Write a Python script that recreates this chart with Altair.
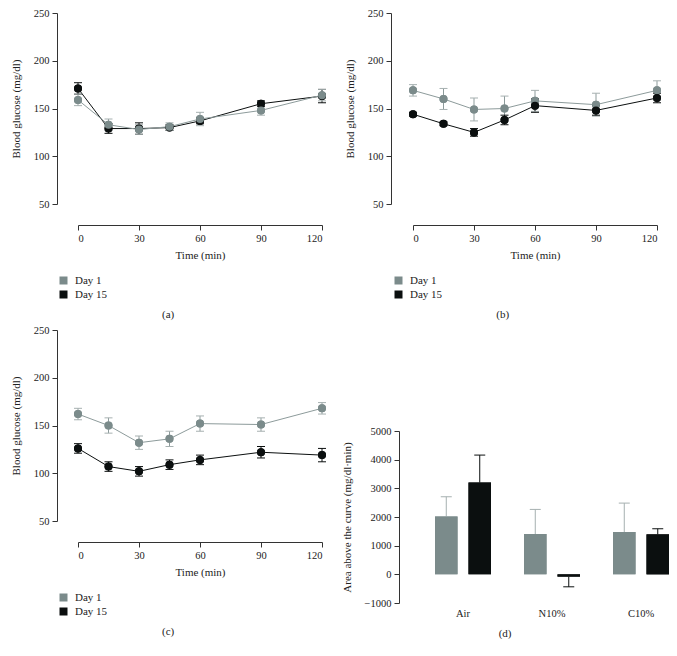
import altair as alt
import pandas as pd

# ---------------- data ----------------
time_min = [0, 15, 30, 45, 60, 90, 120]
series_names = ["Day 1", "Day 15"]

a_day1 = [159, 133, 128, 131, 139, 148, 164]
a_day1_err = [6, 6, 5, 4, 7, 5, 6]
a_day15 = [171, 129, 129, 130, 137, 155, 163]
a_day15_err = [6, 5, 6, 3, 3, 3, 7]

b_day1 = [169, 160, 149, 150, 158, 154, 169]
b_day1_err = [6, 11, 12, 13, 11, 12, 10]
b_day15 = [144, 134, 125, 138, 153, 148, 161]
b_day15_err = [2, 2, 4, 5, 7, 5, 5]

c_day1 = [162, 150, 132, 136, 152, 151, 168]
c_day1_err = [6, 8, 7, 8, 8, 7, 6]
c_day15 = [126, 107, 102, 109, 114, 122, 119]
c_day15_err = [5, 5, 5, 5, 5, 6, 7]

groups = ["Air", "N10%", "C10%"]
auc_day1 = [2020, 1405, 1475]
auc_day1_err = [690, 860, 1010]
auc_day15 = [3200, -80, 1395]
auc_day15_err = [960, 355, 195]

# ---------------- style ----------------
GRAY = "#7b8b8b"
BLACK = "#0b0f0f"
GRAY_ERR = "#a6b0b0"
GRAY_LINE = "#8d9b9b"
FONT = "Liberation Serif"
TXT = "#222222"
AX = "#333333"


def line_df(d1, e1, d15, e15, gray_on_top):
    r1 = [dict(t=t, v=v, lo=v - e, hi=v + e, s="Day 1") for t, v, e in zip(time_min, d1, e1)]
    r15 = [dict(t=t, v=v, lo=v - e, hi=v + e, s="Day 15") for t, v, e in zip(time_min, d15, e15)]
    df = pd.DataFrame(r15 + r1 if gray_on_top else r1 + r15)
    df["sl"] = df["s"]
    df["se"] = df["s"]
    return df


def axis_common(**kw):
    return alt.Axis(
        labelFont=FONT, labelFontSize=10.5, labelColor=TXT,
        titleFont=FONT, titleFontSize=11, titleFontWeight="normal", titleColor=TXT,
        domainColor=AX, tickColor=AX, tickSize=5, labelPadding=3, grid=False, format="d", **kw)


def line_panel(df, caption, yoffset):
    xs = alt.Scale(domain=[0, 120], nice=False, zero=False)
    ys = alt.Scale(domain=[50, 250], nice=False, zero=False)
    xax = axis_common(values=[0, 30, 60, 90, 120], title="Time (min)", offset=21, titlePadding=6)
    yax = axis_common(values=[50, 100, 150, 200, 250], title="Blood glucose (mg/dl)",
                      offset=yoffset, titlePadding=12)
    cs = alt.Scale(domain=series_names, range=[GRAY, BLACK])
    ls = alt.Scale(domain=series_names, range=[GRAY_LINE, BLACK])
    es = alt.Scale(domain=series_names, range=[GRAY_ERR, BLACK])
    base = alt.Chart(df)
    x = alt.X("t:Q", scale=xs, axis=xax)

    lines = base.mark_line(strokeWidth=1).encode(
        x=x, y=alt.Y("v:Q", scale=ys, axis=yax),
        stroke=alt.Stroke("sl:N", scale=ls, legend=None))
    rules = base.mark_rule(strokeWidth=1).encode(
        x=x, y=alt.Y("lo:Q", scale=ys, axis=yax), y2="hi:Q",
        stroke=alt.Stroke("se:N", scale=es, legend=None))
    cap_lo = base.mark_tick(orient="horizontal", size=8, thickness=1, opacity=1).encode(
        x=x, y=alt.Y("lo:Q", scale=ys, axis=yax),
        fill=alt.Fill("se:N", scale=es, legend=None))
    cap_hi = base.mark_tick(orient="horizontal", size=8, thickness=1, opacity=1).encode(
        x=x, y=alt.Y("hi:Q", scale=ys, axis=yax),
        fill=alt.Fill("se:N", scale=es, legend=None))
    pts = base.mark_point(filled=True, size=64, opacity=1, shape="circle", strokeWidth=0).encode(
        x=x, y=alt.Y("v:Q", scale=ys, axis=yax),
        color=alt.Color("s:N", scale=cs, legend=alt.Legend(
            title=None, orient="none", legendX=-20, legendY=262, direction="vertical",
            symbolType="square", symbolSize=64, symbolStrokeWidth=0, symbolOpacity=1,
            labelFont=FONT, labelFontSize=11, labelColor=TXT, labelOffset=6,
            rowPadding=2, padding=0)))
    return alt.layer(pts, lines, rules, cap_lo, cap_hi, pts).properties(
        width=244, height=191,
        title=alt.TitleParams(caption, orient="bottom", anchor="middle", frame="bounds",
                              font=FONT, fontSize=11, fontWeight="normal", color=TXT, offset=9))


def bar_panel():
    rows = []
    for g, v1, e1, v15, e15 in zip(groups, auc_day1, auc_day1_err, auc_day15, auc_day15_err):
        for s, v, e in (("Day 1", v1, e1), ("Day 15", v15, e15)):
            rows.append(dict(g=g, s=s, se=s, v=v, end=v + e if v >= 0 else v - e))
    df = pd.DataFrame(rows)
    base = alt.Chart(df)
    xs = alt.Scale(paddingInner=0.371, paddingOuter=0.1237, align=1)
    xax = alt.Axis(title=None, domain=False, ticks=False, labelAngle=0, labelPadding=5,
                   labelFont=FONT, labelFontSize=10.5, labelColor=TXT)
    x = alt.X("g:N", sort=groups, scale=xs, axis=xax)
    xo = alt.XOffset("s:N", sort=series_names,
                     scale=alt.Scale(domain=series_names, paddingInner=0.328, paddingOuter=0))
    ys = alt.Scale(domain=[-1000, 5000], nice=False, zero=False)
    yax = axis_common(values=[-1000, 0, 1000, 2000, 3000, 4000, 5000],
                      title="Area above the curve (mg/dl\u00b7min)", offset=14, titlePadding=12)
    bars = base.mark_bar().encode(
        x=x, xOffset=xo, y=alt.Y("v:Q", scale=ys, axis=yax),
        color=alt.Color("s:N", scale=alt.Scale(domain=series_names, range=[GRAY, BLACK]), legend=None))
    es = alt.Scale(domain=series_names, range=[GRAY_ERR, BLACK])
    rules = base.mark_rule(strokeWidth=1).encode(
        x=x, xOffset=xo, y=alt.Y("v:Q", scale=ys, axis=yax), y2="end:Q",
        stroke=alt.Stroke("se:N", scale=es, legend=None))
    caps = base.mark_tick(orient="horizontal", size=11, thickness=1, opacity=1).encode(
        x=x, xOffset=xo, y=alt.Y("end:Q", scale=ys, axis=yax),
        fill=alt.Fill("se:N", scale=es, legend=None))
    return alt.layer(bars, rules, caps, bars).properties(
        width=256, height=172,
        title=alt.TitleParams("(d)", orient="bottom", anchor="middle", frame="bounds",
                              font=FONT, fontSize=11, fontWeight="normal", color=TXT, offset=9))


pa = line_panel(line_df(a_day1, a_day1_err, a_day15, a_day15_err, True), "(a)", 21)
pb = line_panel(line_df(b_day1, b_day1_err, b_day15, b_day15_err, False), "(b)", 22)
pc = line_panel(line_df(c_day1, c_day1_err, c_day15, c_day15_err, False), "(c)", 21)
pd_ = bar_panel()

res = dict(color="independent", stroke="independent", fill="independent")
left = alt.vconcat(pa, pc, spacing=5).resolve_scale(**res)
right = alt.vconcat(pb, pd_, spacing=106).resolve_scale(**res)
chart = alt.hconcat(left, right, spacing=15).resolve_scale(**res).properties(
    padding={"left": 2, "top": 0, "right": 0, "bottom": 0}
).configure(background="white", view=alt.ViewConfig(stroke=None))

chart.save("out.html", embed_options={"renderer": "svg", "actions": False})
